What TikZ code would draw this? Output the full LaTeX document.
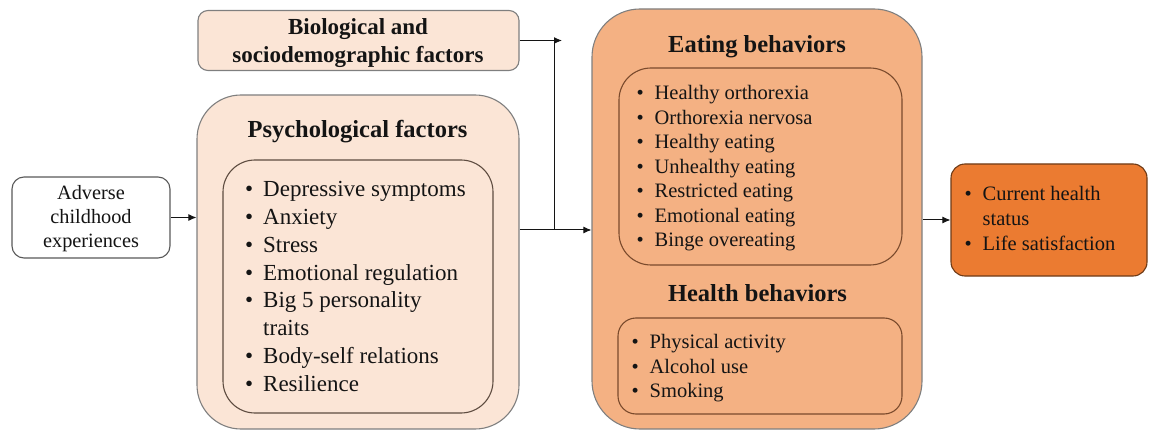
\documentclass[tikz,border=0pt]{standalone}
\usepackage{fontspec}
\setmainfont{Liberation Serif}
\usetikzlibrary{arrows.meta}

\definecolor{peach}{HTML}{FBE5D6}
\definecolor{eatfill}{HTML}{F4B183}
\definecolor{outfill}{HTML}{EB7B31}
\definecolor{greyline}{HTML}{7F7F7F}
\definecolor{darkline}{HTML}{595959}
\definecolor{psyinner}{HTML}{5E4C40}
\definecolor{eatinner}{HTML}{7A4A2C}
\definecolor{outline}{HTML}{6E3B17}
\definecolor{ink}{HTML}{141414}

% bullet with a fixed-width slot so that item texts line up
\newcommand\bul{\makebox[18pt][l]{\textbullet}}
\newcommand\gap{\hspace*{18pt}}

\begin{document}
\begin{tikzpicture}[x=1pt,y=-1pt,
  box/.style={draw, line width=1.1pt, minimum width=#1, inner sep=0pt},
  boxh/.style={minimum height=#1},
  title/.style={font=\fontsize{24.5}{28}\selectfont\bfseries, text=ink, inner sep=0pt},
  listA/.style={font=\fontsize{23}{27.85}\selectfont, text=ink, inner sep=0pt, anchor=base west},
  listB/.style={font=\fontsize{20.5}{24.45}\selectfont, text=ink, inner sep=0pt, anchor=base west},
  arr/.style={draw=ink, line width=1pt, -{Latex[length=8pt,width=7pt]}},
  link/.style={draw=ink, line width=1pt}]

\useasboundingbox (0,0) rectangle (1150,430);

% left column
\node[box=158pt, boxh=81pt, draw=darkline, fill=white, rounded corners=12pt]
  (adv) at (91,217.5) {};
\node[font=\fontsize{20.3}{24}\selectfont, text=ink, align=center, inner sep=0pt]
  (advt) at (91,219) {Adverse\\childhood\\experiences};

% middle column
\node[box=321pt, boxh=60pt, draw=greyline, fill=peach, rounded corners=10pt]
  (bio) at (358.5,40.5) {};
\node[font=\fontsize{23}{28}\selectfont\bfseries, text=ink, align=center, inner sep=0pt]
  (biot) at (358,43) {Biological and\\sociodemographic factors};

\node[box=322pt, boxh=334pt, draw=greyline, fill=peach, rounded corners=44pt]
  (psy) at (358,262) {};
\node[box=270pt, boxh=253pt, draw=psyinner, fill=peach, rounded corners=32pt]
  (psyin) at (358,286.5) {};
\node[title] (psyt) at (357.5,132) {Psychological factors};
\node[listA] (psyl) at (245,196.5) {\begin{tabular}[t]{@{}l@{}}
  \bul Depressive symptoms\\
  \bul Anxiety\\
  \bul Stress\\
  \bul Emotional regulation\\
  \bul Big 5 personality\\
  \gap traits\\
  \bul Body-self relations\\
  \bul Resilience
\end{tabular}};

% behaviours column
\node[box=330pt, boxh=420pt, draw=greyline, fill=eatfill, rounded corners=48pt]
  (eat) at (757,219) {};
\node[box=283pt, boxh=197pt, draw=eatinner, fill=eatfill, rounded corners=32pt]
  (eatin) at (760.5,166.5) {};
\node[box=284pt, boxh=96pt, draw=eatinner, fill=eatfill, rounded corners=18pt]
  (hlthin) at (760,366) {};
\node[title] (eatt) at (757,46.5) {Eating behaviors};
\node[title] (hlth) at (757.5,293) {Health behaviors};
\node[listB] (eatl) at (636.5,100) {\begin{tabular}[t]{@{}l@{}}
  \bul Healthy orthorexia\\
  \bul Orthorexia nervosa\\
  \bul Healthy eating\\
  \bul Unhealthy eating\\
  \bul Restricted eating\\
  \bul Emotional eating\\
  \bul Binge overeating
\end{tabular}};
\node[listB] (hlthl) at (631.5,348.7) {\begin{tabular}[t]{@{}l@{}}
  \bul Physical activity\\
  \bul Alcohol use\\
  \bul Smoking
\end{tabular}};

% outcome
\node[box=196pt, boxh=112pt, draw=outline, fill=outfill, rounded corners=14pt]
  (out) at (1049,220) {};
\node[listB, font=\fontsize{20.5}{25}\selectfont] (outl) at (964.5,200.7) {\begin{tabular}[t]{@{}l@{}}
  \bul Current health\\
  \gap status\\
  \bul Life satisfaction
\end{tabular}};

% connectors
\coordinate (join) at (554,230);
\coordinate (biotip) at (562,40.5);
\draw[arr] (adv.east) -- (adv.east -| psy.west);
\draw[arr] (bio.east) -- (biotip);
\draw[link] (bio.east -| join) -- (join);
\draw[arr] (psy.east |- join) -- (eat.west |- join);
\draw[arr] (eat.east |- out.west) -- (out.west);

\end{tikzpicture}
\end{document}
